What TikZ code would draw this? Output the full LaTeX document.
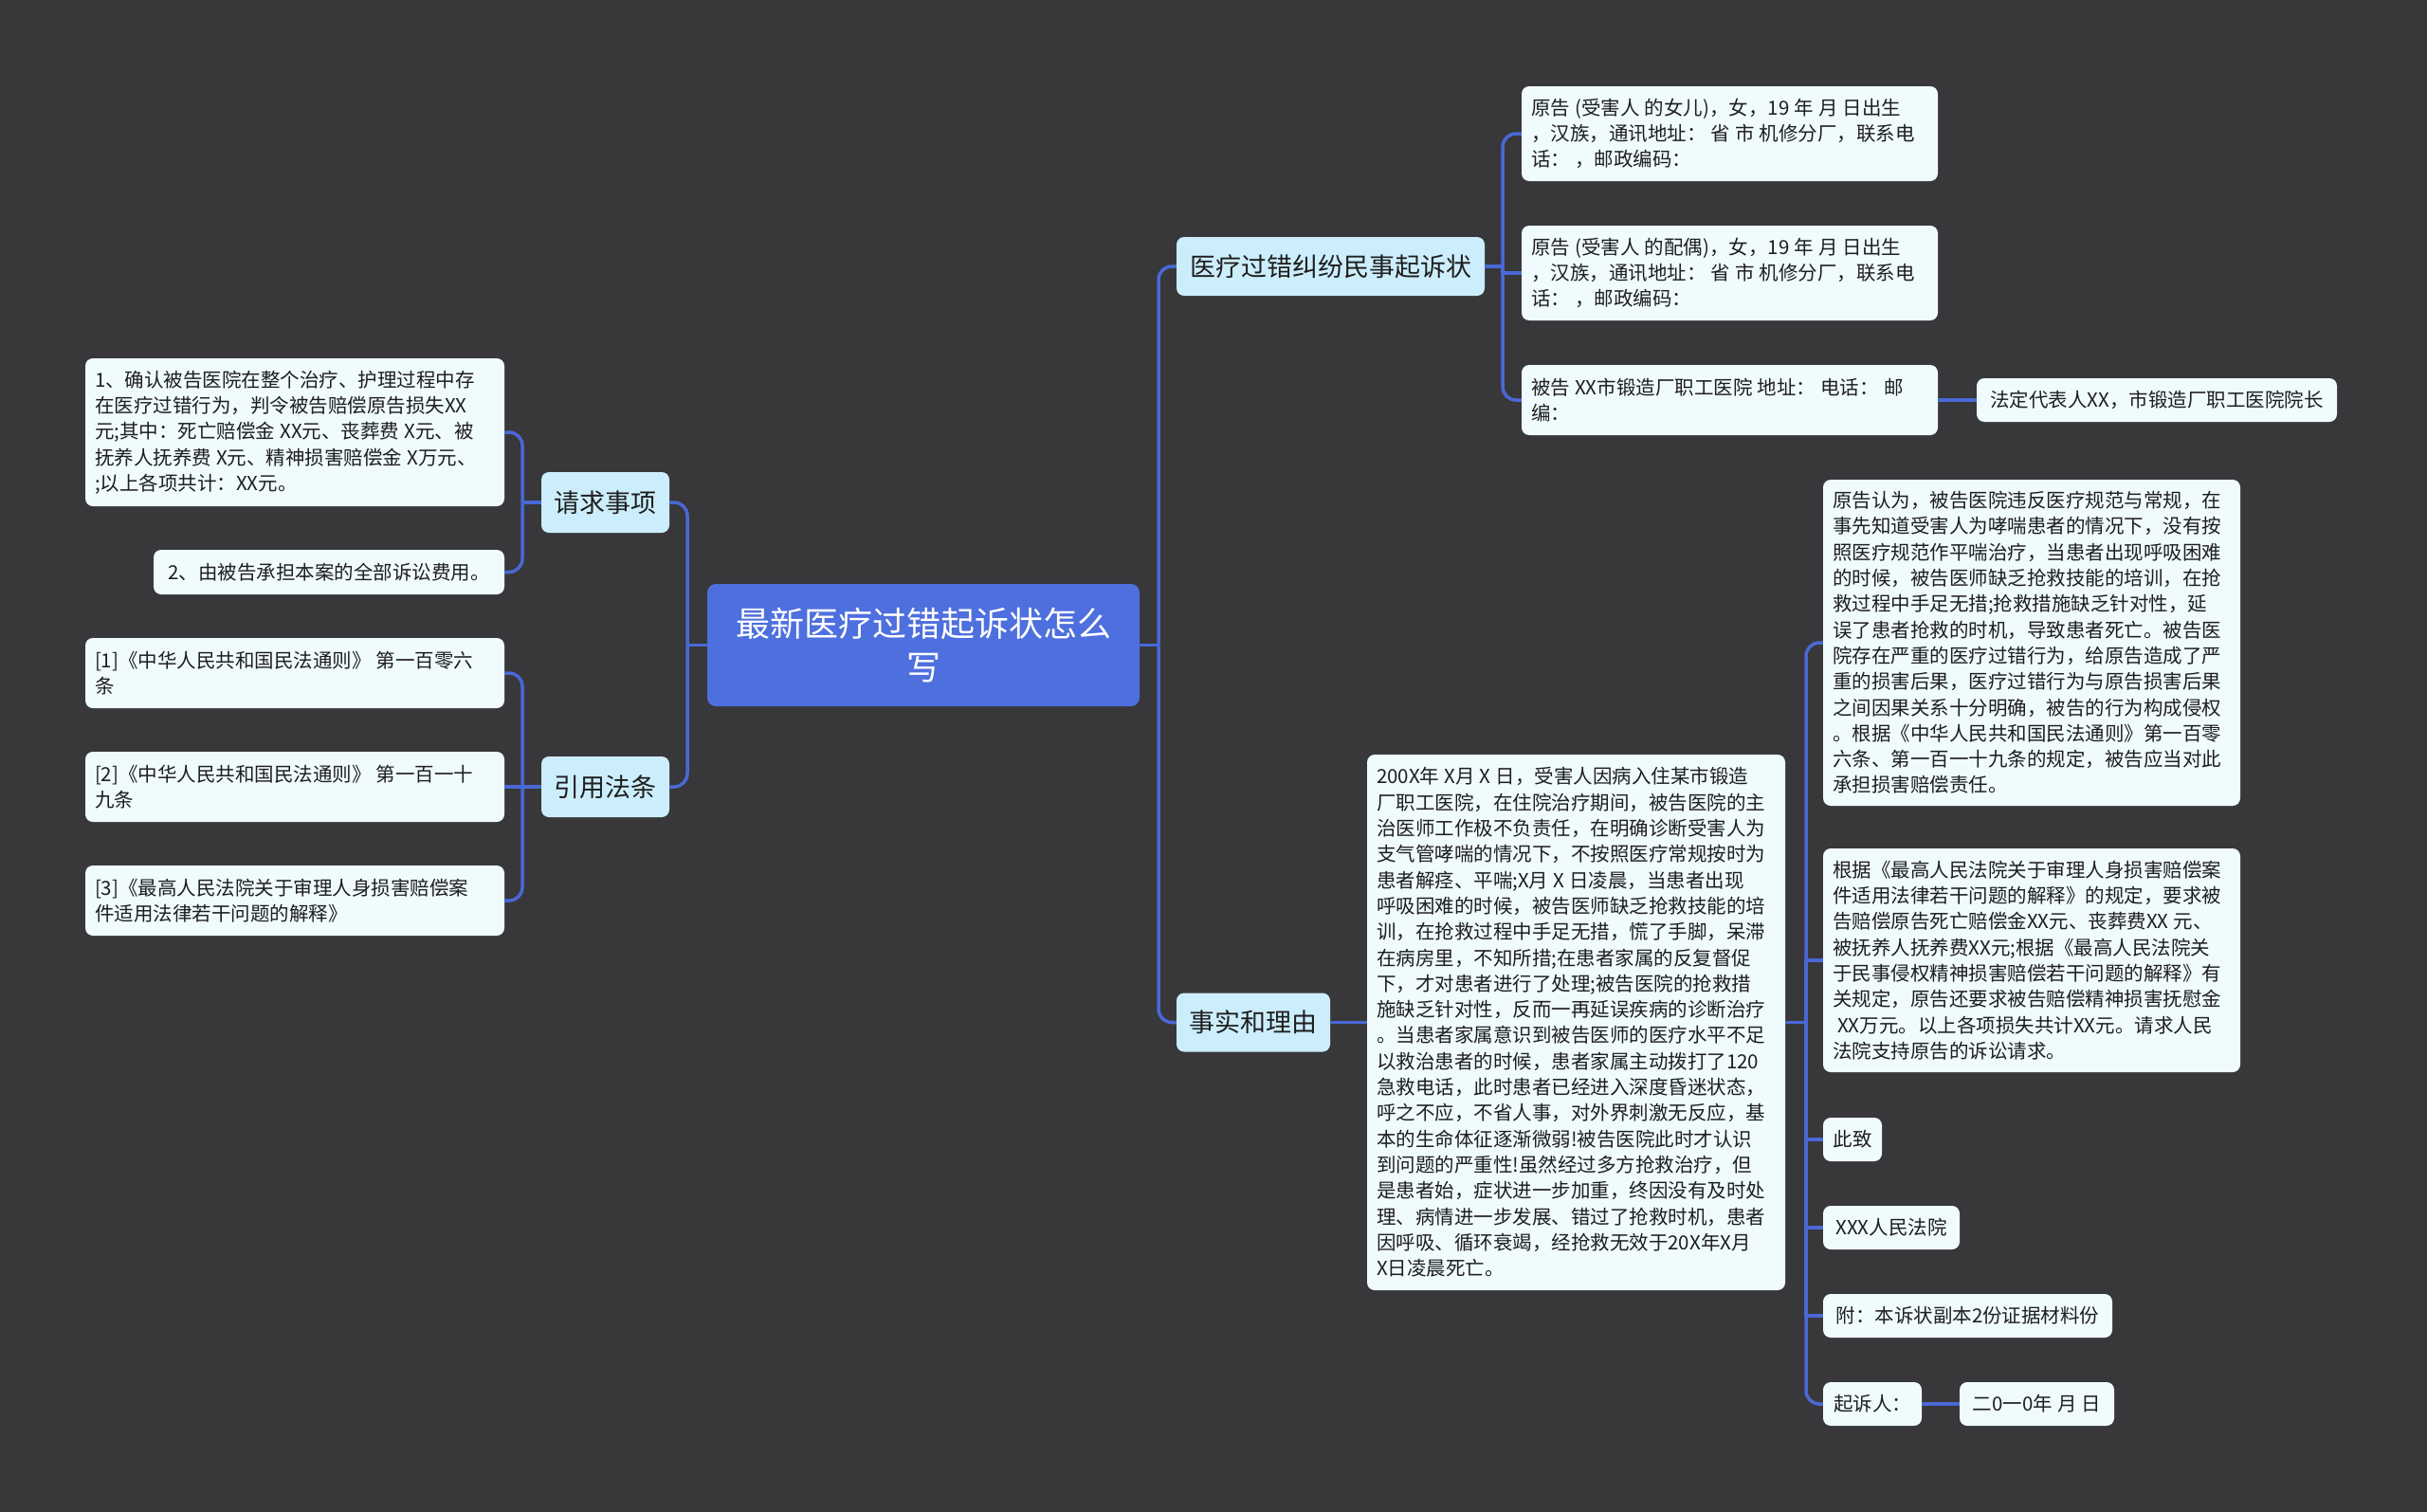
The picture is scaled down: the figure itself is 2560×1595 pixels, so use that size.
\documentclass[tikz,border=0pt]{standalone}
\usepackage{fontspec}
\setmainfont{Noto Sans CJK SC}
\definecolor{bgc}{RGB}{56,55,57}
\definecolor{rootc}{RGB}{78,111,222}
\definecolor{connc}{RGB}{74,104,214}
\definecolor{topc}{RGB}{204,238,252}
\definecolor{leafc}{RGB}{240,251,254}
\definecolor{txtc}{RGB}{30,30,30}
\newcommand\myfixspace{\spaceskip=0.25em\relax}
\tikzset{
  conn/.style={draw=connc, line width=3.5pt},
  rconn/.style={draw=connc, line width=3.5pt, rounded corners=14pt},
  rootbox/.style={fill=rootc, rounded corners=9pt, text=white, font=\fontsize{36}{46}\selectfont, align=center, inner sep=0pt},
  topicbox/.style={fill=topc, rounded corners=8pt, text=txtc, font=\fontsize{27}{34}\selectfont, inner sep=0pt},
  leafbox/.style={fill=leafc, rounded corners=8pt, text=txtc, font=\fontsize{20.5}{27.3}\selectfont, align=left, inner sep=0pt, execute at begin node=\myfixspace},
  sz/.style 2 args={minimum width=#1pt, minimum height=#2pt},
  tw/.style={text width=#1pt},
}
\begin{document}
\begin{tikzpicture}[x=1pt,y=-1pt]
\useasboundingbox (0,0) rectangle (2560,1595);
\fill[bgc] (0,0) rectangle (2560,1595);

% root
\node[rootbox, sz={456}{129}] (root) at (974,680.5) {最新医疗过错起诉状怎么\\写};

% level 1
\node[topicbox, sz={325}{62}] (yl) at (1403.5,281) {医疗过错纠纷民事起诉状};
\node[topicbox, sz={135}{64}] (qq) at (638.5,530) {请求事项};
\node[topicbox, sz={135}{64}] (yy) at (638.5,830) {引用法条};
\node[topicbox, sz={162}{62}] (ss) at (1322,1078.5) {事实和理由};

% left leaves
\node[leafbox, sz={442}{156}, tw=422] (q1) at (311,456) {1、确认被告医院在整个治疗、护理过程中存\\在医疗过错行为，判令被告赔偿原告损失XX\\元;其中：死亡赔偿金 XX元、丧葬费 X元、被\\抚养人抚养费 X元、精神损害赔偿金 X万元、\\;以上各项共计：XX元。};
\node[leafbox, sz={370}{47}] (q2) at (347,603.5) {2、由被告承担本案的全部诉讼费用。};
\node[leafbox, sz={442}{74}, tw=422] (f1) at (311,710) {[1]《中华人民共和国民法通则》 第一百零六\\条};
\node[leafbox, sz={442}{74}, tw=422] (f2) at (311,830) {[2]《中华人民共和国民法通则》 第一百一十\\九条};
\node[leafbox, sz={442}{74}, tw=422] (f3) at (311,950) {[3]《最高人民法院关于审理人身损害赔偿案\\件适用法律若干问题的解释》};

% right top leaves
\node[leafbox, sz={439}{100}, tw=419] (y1) at (1824.5,141) {原告 (受害人 的女儿)，女，19 年 月 日出生\\，汉族，通讯地址： 省 市 机修分厂，联系电\\话： ，邮政编码：};
\node[leafbox, sz={439}{100}, tw=419] (y2) at (1824.5,288) {原告 (受害人 的配偶)，女，19 年 月 日出生\\，汉族，通讯地址： 省 市 机修分厂，联系电\\话： ，邮政编码：};
\node[leafbox, sz={439}{74}, tw=419] (y3) at (1824.5,422) {被告 XX市锻造厂职工医院 地址： 电话： 邮\\编：};
\node[leafbox, sz={380}{46}] (y4) at (2275,422) {法定代表人XX，市锻造厂职工医院院长};

% facts
\node[leafbox, sz={441}{565}, tw=421] (ss1) at (1662.5,1078.5) {200X年 X月 X 日，受害人因病入住某市锻造\\厂职工医院，在住院治疗期间，被告医院的主\\治医师工作极不负责任，在明确诊断受害人为\\支气管哮喘的情况下，不按照医疗常规按时为\\患者解痉、平喘;X月 X 日凌晨，当患者出现\\呼吸困难的时候，被告医师缺乏抢救技能的培\\训，在抢救过程中手足无措，慌了手脚，呆滞\\在病房里，不知所措;在患者家属的反复督促\\下，才对患者进行了处理;被告医院的抢救措\\施缺乏针对性，反而一再延误疾病的诊断治疗\\。当患者家属意识到被告医师的医疗水平不足\\以救治患者的时候，患者家属主动拨打了120\\急救电话，此时患者已经进入深度昏迷状态，\\呼之不应，不省人事，对外界刺激无反应，基\\本的生命体征逐渐微弱!被告医院此时才认识\\到问题的严重性!虽然经过多方抢救治疗，但\\是患者始，症状进一步加重，终因没有及时处\\理、病情进一步发展、错过了抢救时机，患者\\因呼吸、循环衰竭，经抢救无效于20X年X月\\X日凌晨死亡。};

\node[leafbox, sz={440}{344}, tw=420] (r1) at (2143,678) {原告认为，被告医院违反医疗规范与常规，在\\事先知道受害人为哮喘患者的情况下，没有按\\照医疗规范作平喘治疗，当患者出现呼吸困难\\的时候，被告医师缺乏抢救技能的培训，在抢\\救过程中手足无措;抢救措施缺乏针对性，延\\误了患者抢救的时机，导致患者死亡。被告医\\院存在严重的医疗过错行为，给原告造成了严\\重的损害后果，医疗过错行为与原告损害后果\\之间因果关系十分明确，被告的行为构成侵权\\。根据《中华人民共和国民法通则》第一百零\\六条、第一百一十九条的规定，被告应当对此\\承担损害赔偿责任。};
\node[leafbox, sz={440}{236}, tw=420] (r2) at (2143,1013) {根据《最高人民法院关于审理人身损害赔偿案\\件适用法律若干问题的解释》的规定，要求被\\告赔偿原告死亡赔偿金XX元、丧葬费XX 元、\\被抚养人抚养费XX元;根据《最高人民法院关\\于民事侵权精神损害赔偿若干问题的解释》有\\关规定，原告还要求被告赔偿精神损害抚慰金\\\hspace*{0.25em}XX万元。以上各项损失共计XX元。请求人民\\法院支持原告的诉讼请求。};
\node[leafbox, sz={62}{46}] (r3) at (1954,1202) {此致};
\node[leafbox, sz={144}{46}] (r4) at (1995,1295) {XXX人民法院};
\node[leafbox, sz={305}{46}] (r5) at (2075.5,1388) {附：本诉状副本2份证据材料份};
\node[leafbox, sz={104}{46}] (r6) at (1975,1481) {起诉人：};
\node[leafbox, sz={163}{46}] (r7) at (2148.5,1481) {二0一0年 月 日};

% junctions
\coordinate (jR) at (1222,680.5);
\coordinate (jL) at (725,680.5);
\coordinate (jQ) at (551,530);
\coordinate (jF) at (551,830);
\coordinate (jY) at (1585,281);
\coordinate (jS) at (1905,1078.5);

% connectors root
\draw[conn] (root.east) -- (jR);
\draw[rconn] (jR) |- (yl.west);
\draw[rconn] (jR) |- (ss.west);
\draw[conn] (root.west) -- (jL);
\draw[rconn] (jL) |- (qq.east);
\draw[rconn] (jL) |- (yy.east);

% left
\draw[conn] (qq.west) -- (jQ);
\draw[rconn] (jQ) |- (q1.east);
\draw[rconn] (jQ) |- (q2.east);
\draw[conn] (yy.west) -- (jF);
\draw[rconn] (jF) |- (f1.east);
\draw[conn] (jF) -- (f2.east);
\draw[rconn] (jF) |- (f3.east);

% right top
\draw[conn] (yl.east) -- (jY);
\draw[rconn] (jY) |- (y1.west);
\draw[conn] (jY) |- (y2.west);
\draw[rconn] (jY) |- (y3.west);
\draw[conn] (y3.east) -- (y4.west);

% facts
\draw[conn] (ss.east) -- (ss1.west);
\draw[conn] (ss1.east) -- (jS);
\draw[rconn] (jS) |- (r1.west);
\draw[conn] (jS) |- (r2.west);
\draw[conn] (jS) |- (r3.west);
\draw[conn] (jS) |- (r4.west);
\draw[conn] (jS) |- (r5.west);
\draw[rconn] (jS) |- (r6.west);
\draw[conn] (r6.east) -- (r7.west);
\end{tikzpicture}
\end{document}
